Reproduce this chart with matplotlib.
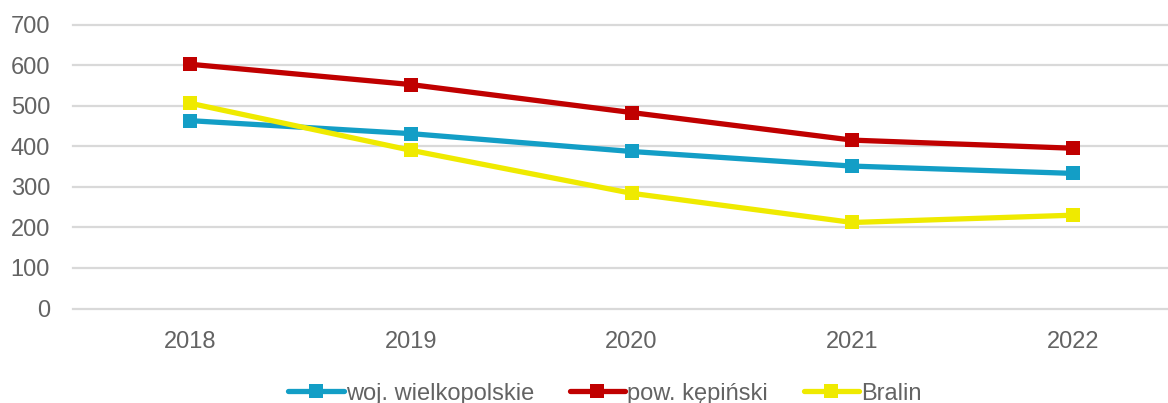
import matplotlib
matplotlib.use("Agg")
import matplotlib.pyplot as plt

years = ["2018", "2019", "2020", "2021", "2022"]
woj_wielkopolskie = [463, 431, 387, 351, 333]
pow_kepinski = [602, 552, 483, 415, 395]
bralin = [506, 390, 284, 212, 230]

series_names = ["woj. wielkopolskie", "pow. kępiński", "Bralin"]
series_colors = ["#139ec6", "#c00000", "#efea00"]
y_ticks = [0, 100, 200, 300, 400, 500, 600, 700]

plt.rcParams["font.family"] = ["Liberation Sans", "DejaVu Sans"]
text_color = "#636363"
font_size = 17

fig = plt.figure(figsize=(11.68, 4.03), dpi=100)
ax = fig.add_axes([73 / 1168, (403 - 308.5) / 403, 1 - 73 / 1168, (308.5 - 24.5) / 403])

x = list(range(len(years)))
for values, name, color in zip([woj_wielkopolskie, pow_kepinski, bralin], series_names, series_colors):
    ax.plot(x, values, color=color, linewidth=3.8, marker="s", markersize=10.5,
            markeredgewidth=0, label=name, solid_capstyle="round", zorder=3)

ax.set_xlim(-0.53, 4.43)
ax.set_ylim(0, 700)
ax.set_xticks(x)
ax.set_xticklabels(years)
ax.set_yticks(y_ticks)

for side in ["top", "right", "bottom", "left"]:
    ax.spines[side].set_visible(False)

ax.tick_params(axis="both", length=0, labelsize=font_size, labelcolor=text_color)
ax.tick_params(axis="y", pad=16.5)
ax.tick_params(axis="x", pad=16.5)

ax.yaxis.grid(True, color="#d9d9d9", linewidth=1.6)
ax.xaxis.grid(False)
ax.set_axisbelow(True)
for gl in ax.get_ygridlines():
    gl.set_clip_on(False)

leg = fig.legend(loc="center", bbox_to_anchor=(0.518, 0.023), ncol=3, frameon=False,
                 fontsize=font_size, handlelength=2.35, handletextpad=0.1,
                 columnspacing=1.5, borderpad=0)
for t in leg.get_texts():
    t.set_color(text_color)

fig.savefig("out.png", dpi=100)
